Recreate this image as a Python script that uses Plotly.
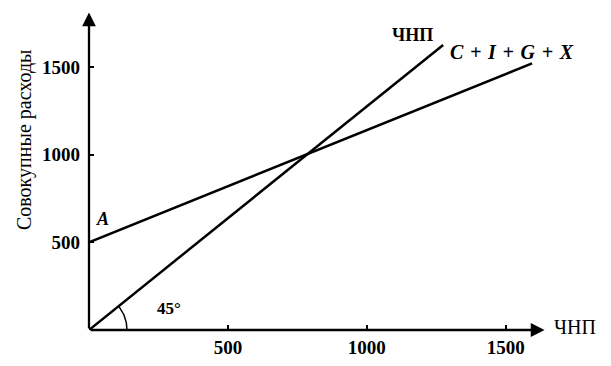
import numpy as np
import plotly.graph_objects as go

# Data
gnp_x = [0, 1275]          # ЧНП (45° line)
gnp_y = [0, 1625]
ae_x = [0, 1595]           # C + I + G + X
ae_y = [500, 1520]
x_ticks = [500, 1000, 1500]
y_ticks = [500, 1000, 1500]
x_max, y_max = 1640, 1810  # axis arrow tips

# page body has an 8px margin, so the figure is sized to fit the window
W, H = 603, 358
X_RANGE = [0, 1800]
Y_RANGE = [0, 1830]
ML, MR, MT, MB = 81, 22, 1, 36

serif = "Liberation Serif"
line_style = dict(color="black", width=2.5)

fig = go.Figure()
fig.add_trace(go.Scatter(x=gnp_x, y=gnp_y, mode="lines", line=line_style,
                         showlegend=False, hoverinfo="skip", cliponaxis=False))
fig.add_trace(go.Scatter(x=ae_x, y=ae_y, mode="lines", line=line_style,
                         showlegend=False, hoverinfo="skip", cliponaxis=False))

# 45° arc drawn in pixel space around origin, converted to data units
px_per_x = (W - ML - MR) / (X_RANGE[1] - X_RANGE[0])
px_per_y = (H - MT - MB) / (Y_RANGE[1] - Y_RANGE[0])
ang = np.arctan2(gnp_y[1] * px_per_y, gnp_x[1] * px_per_x)
r = 38
t = np.linspace(0, ang, 30)
fig.add_trace(go.Scatter(x=r * np.cos(t) / px_per_x, y=r * np.sin(t) / px_per_y,
                         mode="lines", line=dict(color="black", width=1.5),
                         showlegend=False, hoverinfo="skip"))

# axis arrows
fig.add_annotation(x=x_max, y=0, ax=0, ay=0, xref="x", yref="y", axref="x", ayref="y",
                   showarrow=True, arrowhead=2, arrowsize=1.2, arrowwidth=2.3, arrowcolor="black", text="")
fig.add_annotation(x=0, y=y_max, ax=0, ay=0, xref="x", yref="y", axref="x", ayref="y",
                   showarrow=True, arrowhead=2, arrowsize=1.2, arrowwidth=2.3, arrowcolor="black", text="")

def label(text, x, y, size, bold=True, italic=False, xanchor="center", xref="x", **kw):
    fig.add_annotation(x=x, y=y, xref=xref, yref="y", text=text, showarrow=False,
                       xanchor=xanchor, yanchor="middle",
                       font=dict(family=serif, size=size, color="black",
                                 weight="bold" if bold else "normal",
                                 style="italic" if italic else "normal"), **kw)

sp = "\u2004"
label("ЧНП", 1166, 1681, 18)
label(f"C{sp}+{sp}I{sp}+{sp}G{sp}+{sp}X", 1523, 1584, 20, italic=True)
label("A", 47, 632, 18, italic=True)
label("45°", 288, 120, 17)
label("ЧНП", 1665, 17, 20, bold=False, xanchor="left")
label("Совокупные расходы", -0.13, 1083, 20, bold=False, textangle=-90, xref="paper")

tickfont = dict(family=serif, size=19, color="black", weight="bold")
fig.update_layout(
    width=W, height=H, margin=dict(l=ML, r=MR, t=MT, b=MB, autoexpand=False),
    paper_bgcolor="white", plot_bgcolor="white",
    xaxis=dict(range=X_RANGE, tickvals=x_ticks, ticks="inside", ticklen=5, tickwidth=1.5,
               tickcolor="black", showgrid=False, zeroline=False, showline=False,
               tickfont=tickfont, ticklabelstandoff=4, fixedrange=True),
    yaxis=dict(range=Y_RANGE, tickvals=y_ticks, ticks="inside", ticklen=5, tickwidth=1.5,
               tickcolor="black", showgrid=False, zeroline=False, showline=False,
               tickfont=tickfont, ticklabelstandoff=8, fixedrange=True),
)

fig.write_html("out.html")
